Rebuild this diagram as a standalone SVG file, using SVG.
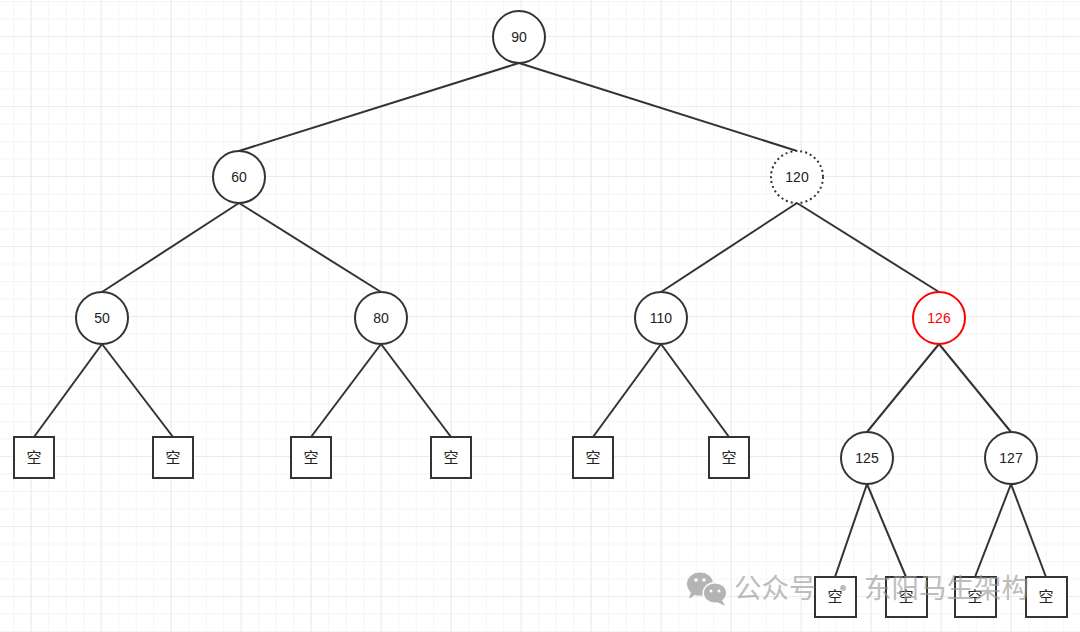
<svg xmlns="http://www.w3.org/2000/svg" width="1080" height="632" viewBox="0 0 1080 632">
<defs>
<pattern id="minor" x="30.7" y="36" width="17.5" height="17.5" patternUnits="userSpaceOnUse">
<path d="M0 0H17.5M0 0V17.5" fill="none" stroke="#ececec" stroke-width="1"/>
</pattern>
<pattern id="major" x="30.7" y="36" width="70" height="70" patternUnits="userSpaceOnUse">
<path d="M0 0H70M0 0V70" fill="none" stroke="#e2e2e2" stroke-width="1.2"/>
</pattern>
</defs>
<style>
.n{fill:#fff;stroke:#333;stroke-width:2}
.dot{fill:#fff;stroke:#333;stroke-width:2;stroke-dasharray:2 3}
.red{fill:#fff;stroke:#ff0000;stroke-width:2}
.t{font-family:"Liberation Sans",Arial,sans-serif;font-size:14px;fill:#222;text-anchor:middle}
.tr{font-family:"Liberation Sans",Arial,sans-serif;font-size:14px;fill:#ff0000;text-anchor:middle}
.k{font-family:"Noto Sans CJK SC",sans-serif;font-size:15px;fill:#222;text-anchor:middle}
.e{stroke:#333;stroke-width:2;fill:none}
.wm{font-family:"Noto Sans CJK SC",sans-serif;font-size:27.5px;fill:#999;opacity:0.75}
</style>
<rect width="1080" height="632" fill="#fff"/>
<rect width="1080" height="632" fill="url(#minor)"/>
<rect width="1080" height="632" fill="url(#major)"/>
<g id="connectors">
<line class="e" x1="519" y1="63" x2="239" y2="151"/>
<line class="e" x1="519" y1="63" x2="797" y2="151"/>
<line class="e" x1="239" y1="203" x2="102" y2="292"/>
<line class="e" x1="239" y1="203" x2="381" y2="292"/>
<line class="e" x1="797" y1="203" x2="661" y2="292"/>
<line class="e" x1="797" y1="203" x2="939" y2="292"/>
<line class="e" x1="102" y1="344" x2="34" y2="437"/>
<line class="e" x1="102" y1="344" x2="173" y2="437"/>
<line class="e" x1="381" y1="344" x2="311" y2="437"/>
<line class="e" x1="381" y1="344" x2="451" y2="437"/>
<line class="e" x1="661" y1="344" x2="593" y2="437"/>
<line class="e" x1="661" y1="344" x2="729" y2="437"/>
<line class="e" x1="939" y1="344" x2="867" y2="432"/>
<line class="e" x1="939" y1="344" x2="1011" y2="432"/>
<line class="e" x1="867" y1="484" x2="835" y2="577"/>
<line class="e" x1="867" y1="484" x2="906" y2="577"/>
<line class="e" x1="1011" y1="484" x2="975" y2="577"/>
<line class="e" x1="1011" y1="484" x2="1046" y2="577"/>
</g>
<g id="n90"><circle class="n" cx="519" cy="37" r="26"/><text class="t" x="519" y="42">90</text></g>
<g id="n60"><circle class="n" cx="239" cy="177" r="26"/><text class="t" x="239" y="182">60</text></g>
<g id="n120"><circle class="dot" cx="797" cy="177" r="26"/><text class="t" x="797" y="182">120</text></g>
<g id="n50"><circle class="n" cx="102" cy="318" r="26"/><text class="t" x="102" y="323">50</text></g>
<g id="n80"><circle class="n" cx="381" cy="318" r="26"/><text class="t" x="381" y="323">80</text></g>
<g id="n110"><circle class="n" cx="661" cy="318" r="26"/><text class="t" x="661" y="323">110</text></g>
<g id="n126"><circle class="red" cx="939" cy="318" r="26"/><text class="tr" x="939" y="323">126</text></g>
<g id="n125"><circle class="n" cx="867" cy="458" r="26"/><text class="t" x="867" y="463">125</text></g>
<g id="n127"><circle class="n" cx="1011" cy="458" r="26"/><text class="t" x="1011" y="463">127</text></g>
<g id="e1"><rect class="n" x="14" y="437" width="40" height="41"/><text class="k" x="34" y="463">空</text></g>
<g id="e2"><rect class="n" x="153" y="437" width="40" height="41"/><text class="k" x="173" y="463">空</text></g>
<g id="e3"><rect class="n" x="291" y="437" width="40" height="41"/><text class="k" x="311" y="463">空</text></g>
<g id="e4"><rect class="n" x="431" y="437" width="40" height="41"/><text class="k" x="451" y="463">空</text></g>
<g id="e5"><rect class="n" x="573" y="437" width="40" height="41"/><text class="k" x="593" y="463">空</text></g>
<g id="e6"><rect class="n" x="709" y="437" width="40" height="41"/><text class="k" x="729" y="463">空</text></g>
<g id="e7"><rect class="n" x="815" y="577" width="41" height="40"/><text class="k" x="835" y="602">空</text></g>
<g id="e8"><rect class="n" x="886" y="577" width="41" height="40"/><text class="k" x="906" y="602">空</text></g>
<g id="e9"><rect class="n" x="955" y="577" width="41" height="40"/><text class="k" x="975" y="602">空</text></g>
<g id="e10"><rect class="n" x="1026" y="577" width="41" height="40"/><text class="k" x="1046" y="602">空</text></g>
<g id="watermark" opacity="0.85">
<ellipse cx="700" cy="584" rx="13" ry="11.5" fill="#a8a8a8"/>
<path d="M691 592 L689 599 L696 594 Z" fill="#a8a8a8"/>
<ellipse cx="715" cy="593" rx="12.5" ry="11" fill="#fff"/>
<ellipse cx="715" cy="593" rx="11" ry="9.5" fill="#a8a8a8"/>
<path d="M722 600 L725 606 L717 602 Z" fill="#a8a8a8"/>
<circle cx="696" cy="580" r="1.8" fill="#fff"/>
<circle cx="704" cy="580" r="1.8" fill="#fff"/>
<circle cx="711" cy="591" r="1.5" fill="#fff"/>
<circle cx="719" cy="591" r="1.5" fill="#fff"/>
<text class="wm" x="734" y="598">公众号</text>
<text class="wm" x="843" y="598" text-anchor="middle">·</text>
<text class="wm" x="864" y="598">东阳马生架构</text>
</g>
</svg>
